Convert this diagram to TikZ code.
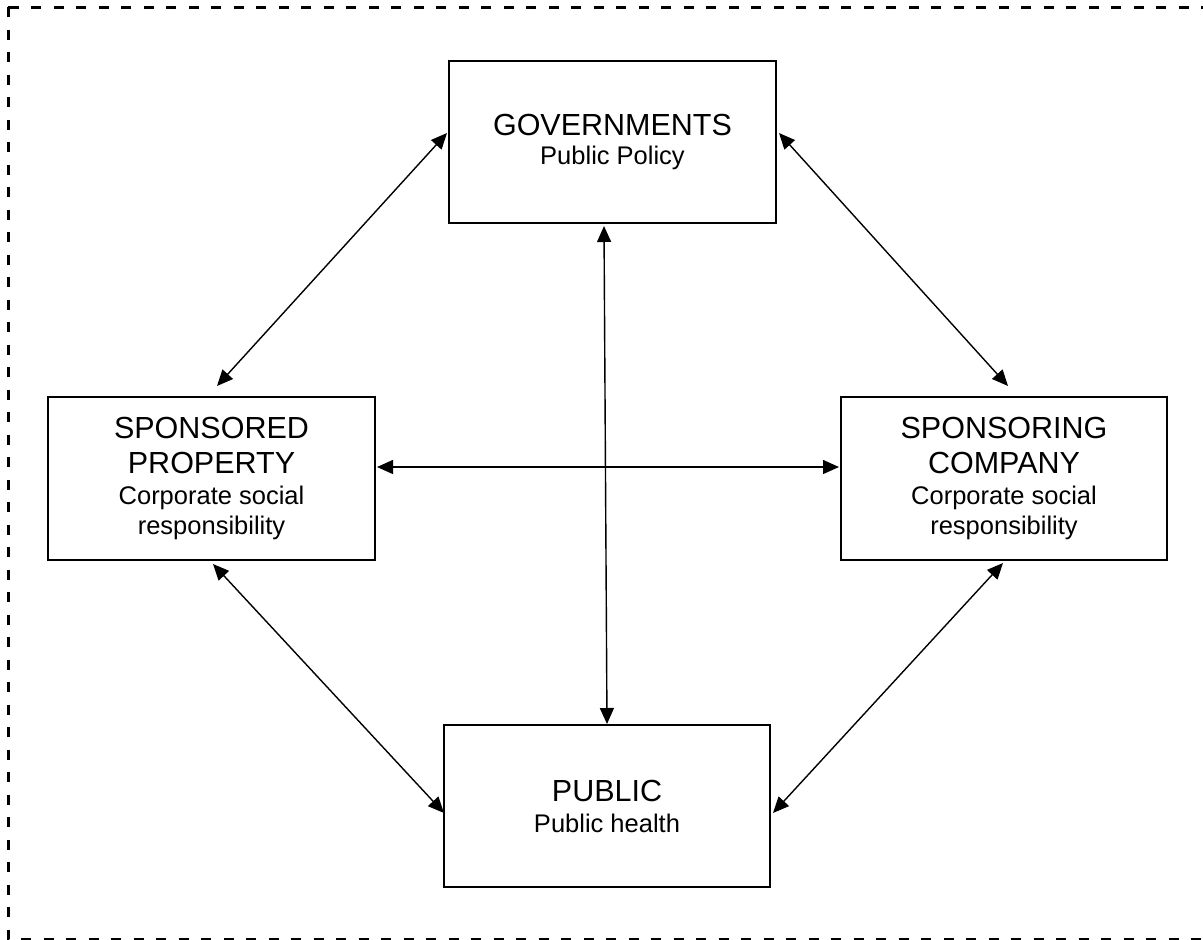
\documentclass[tikz,border=0pt]{standalone}
\usepackage{fontspec}
\setmainfont{Liberation Sans}
\usetikzlibrary{arrows.meta,calc}
\newcommand{\subline}{\fontsize{25.5}{28}\selectfont}
\begin{document}
\begin{tikzpicture}[x=1pt,y=-1pt,
  actor/.style={draw, line width=2pt, rectangle, inner sep=0pt,
    minimum width=327pt, minimum height=162pt, align=center,
    font=\fontsize{30.5}{31}\selectfont},
  link/.style={line width=1.4pt, {Triangle[length=16pt,width=14pt]}-{Triangle[length=16pt,width=14pt]}}]
\useasboundingbox (0,0) rectangle (1203,940);
% outer dashed frame
\draw[line width=3pt, dash pattern=on 10pt off 12.5pt] (8,7) rectangle (1230,939);

% the four actors
\node[actor] (gov) at (612.5,142) {GOVERNMENTS\\[-2pt]{\subline Public Policy}};
\node[actor, minimum height=163pt] (sp) at (211.5,478.5)
  {SPONSORED\\[4pt]PROPERTY\\{\subline Corporate social}\\[-1pt]{\subline responsibility}};
\node[actor, minimum height=163pt, minimum width=326pt] (sc) at (1004,478.5)
  {SPONSORING\\[4pt]COMPANY\\{\subline Corporate social}\\[-1pt]{\subline responsibility}};
\node[actor, minimum width=326pt] (pub) at (607,806) {PUBLIC\\{\subline Public health}};

% relationships
\draw[link] ($(gov.west)+(-1,-9)$) -- ($(sp.north)+(5.5,-10)$);
\draw[link] ($(gov.east)+(2,-9)$) -- ($(sc.north)+(4,-10)$);
\draw[link] ($(sp.east)+(1,-11.5)$) -- ($(sc.west)+(-1,-11.5)$);
\draw[link] ($(gov.south)+(-8.5,2)$) -- (pub.north);
\draw[link] ($(sp.south)+(1.5,3)$) -- ($(pub.west)+(1,7)$);
\draw[link] ($(sc.south)+(-1,2)$) -- ($(pub.east)+(2,7)$);
\end{tikzpicture}
\end{document}
